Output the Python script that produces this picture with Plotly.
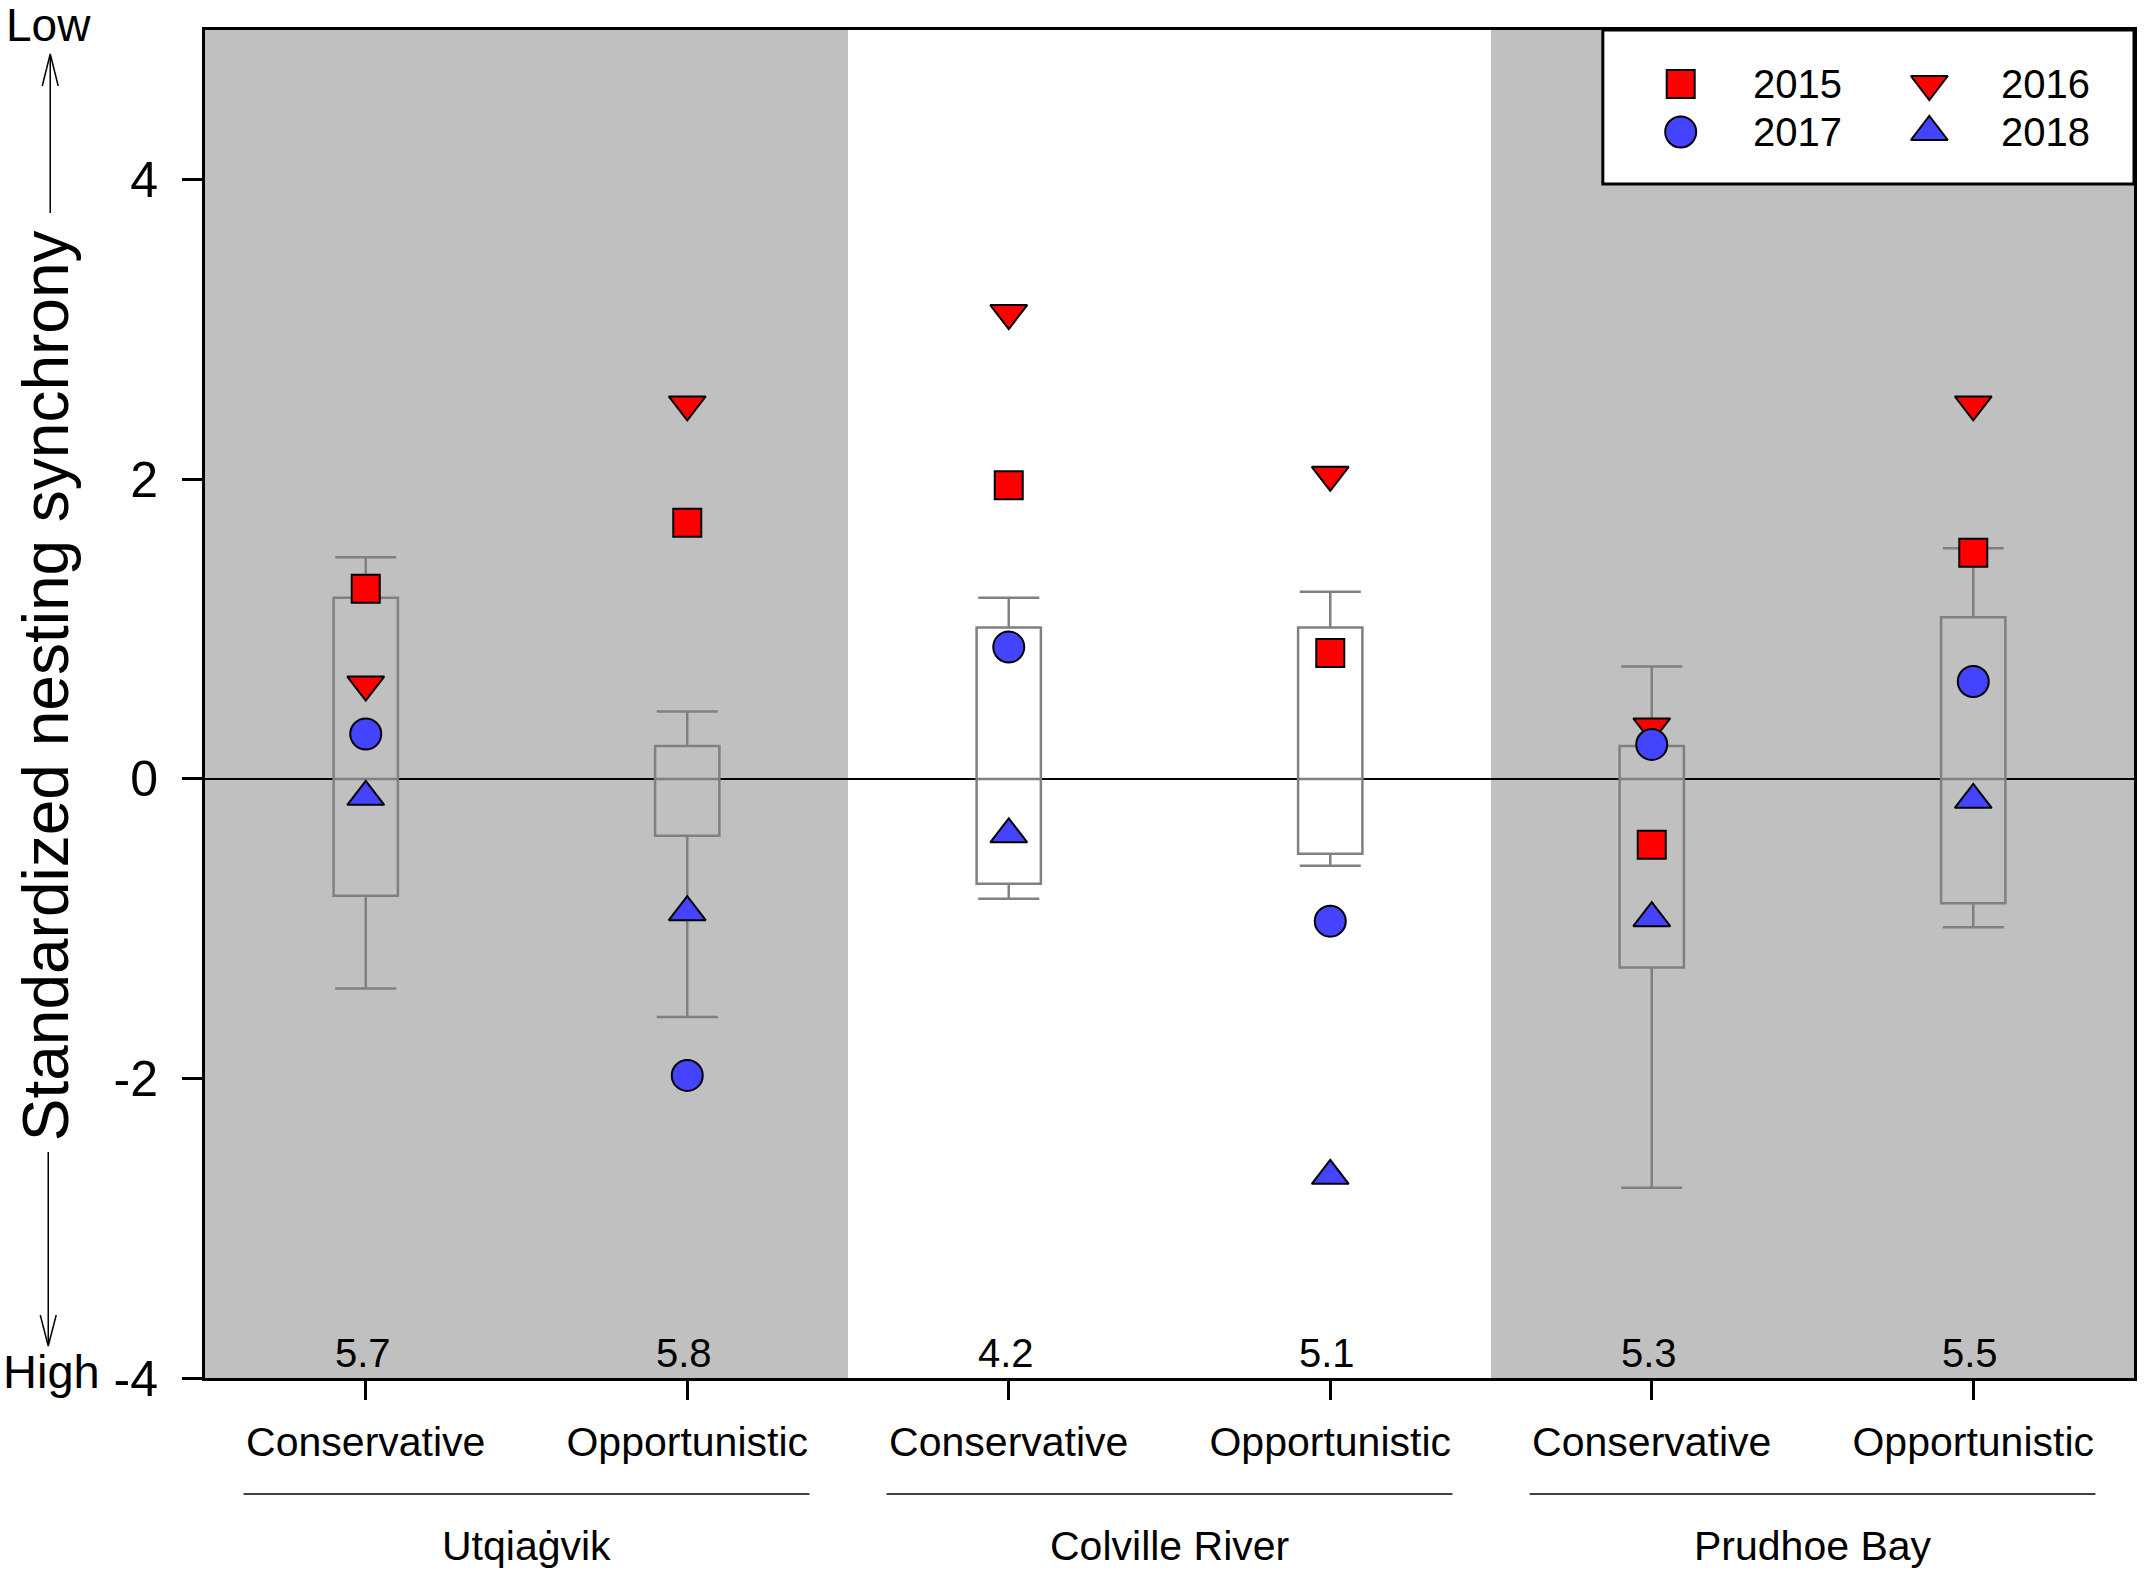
import plotly.graph_objects as go

# ---------------- data ----------------
positions = [1, 2, 3, 4, 5, 6]
categories = ["Conservative", "Opportunistic", "Conservative", "Opportunistic", "Conservative", "Opportunistic"]
groups = ["Utqiaġvik", "Colville River", "Prudhoe Bay"]
group_centers = [1.5, 3.5, 5.5]
bottom_values = ["5.7", "5.8", "4.2", "5.1", "5.3", "5.5"]
y_tickvals = [-4, -2, 0, 2, 4]
y_ticktext = ["-4", "-2", "0", "2", "4"]

box_upper = [1.48, 0.45, 1.21, 1.25, 0.75, 1.54]
box_q3 = [1.21, 0.22, 1.01, 1.01, 0.22, 1.08]
box_median = [0, 0, 0, 0, 0, 0]
box_q1 = [-0.78, -0.38, -0.70, -0.50, -1.26, -0.83]
box_lower = [-1.40, -1.59, -0.80, -0.58, -2.73, -0.99]

y2015 = [1.27, 1.71, 1.96, 0.84, -0.44, 1.51]
y2016 = [0.63, 2.50, 3.11, 2.03, 0.35, 2.50]
y2017 = [0.30, -1.98, 0.88, -0.95, 0.23, 0.65]
y2018 = [-0.12, -0.89, -0.37, -2.65, -0.93, -0.14]

years = ["2015", "2016", "2017", "2018"]

# ---------------- styling ----------------
FONT = "Liberation Sans, Arial, sans-serif"
RED = "#ff0000"
BLUE = "#4444ff"
GREY_BAND = "#c0c0c0"
BOX_LINE = "#808080"

W, H = 2149, 1573
L, R, T, B = 205, 2137, 30, 1378


def px(x):
    return (x - L) / (R - L)


def py(y):
    return (B - y) / (B - T)


def xd(v):
    return (v - 0.5) / 6.0


series = [
    (years[0], y2015, "square", RED, 28),
    (years[1], y2016, "triangle-down", RED, 32),
    (years[2], y2017, "circle", BLUE, 31),
    (years[3], y2018, "triangle-up", BLUE, 32),
]

fig = go.Figure()

fig.add_trace(go.Box(
    x=positions, q1=box_q1, median=box_median, q3=box_q3,
    lowerfence=box_lower, upperfence=box_upper,
    width=0.2, whiskerwidth=0.95,
    line=dict(color=BOX_LINE, width=2.5),
    fillcolor="rgba(0,0,0,0)", boxpoints=False,
    showlegend=False, hoverinfo="skip",
))

for name, vals, sym, col, size in series:
    fig.add_trace(go.Scatter(
        x=positions, y=vals, mode="markers", name=name, showlegend=False,
        marker=dict(symbol=sym, size=size, color=col, line=dict(color="black", width=2)),
        cliponaxis=False,
    ))

# manual legend glyphs (overlay axis in paper-like 0..1 units)
legend_pos = {
    "2015": (1683, 84), "2017": (1683, 132),
    "2016": (1932, 84), "2018": (1932, 132),
}
for name, vals, sym, col, size in series:
    lx, ly = legend_pos[name]
    fig.add_trace(go.Scatter(
        x=[px(lx)], y=[py(ly)], mode="markers", xaxis="x2", yaxis="y2",
        showlegend=False, hoverinfo="skip", cliponaxis=False,
        marker=dict(symbol=sym, size=size, color=col, line=dict(color="black", width=2)),
    ))

shapes = [
    dict(type="rect", xref="x", yref="paper", x0=0.5, x1=2.5, y0=0, y1=1,
         fillcolor=GREY_BAND, line=dict(width=0), layer="below"),
    dict(type="rect", xref="x", yref="paper", x0=4.5, x1=6.5, y0=0, y1=1,
         fillcolor=GREY_BAND, line=dict(width=0), layer="below"),
    dict(type="rect", xref="paper", yref="paper", x0=px(1605), x1=px(2137), y0=py(184), y1=py(30),
         fillcolor="white", line=dict(color="black", width=3), layer="below"),
    # y-axis arrows
    dict(type="line", xref="paper", yref="paper", x0=px(50), x1=px(50), y0=py(213), y1=py(55),
         line=dict(color="black", width=1.5)),
    dict(type="path", xref="paper", yref="paper",
         path=f"M {px(42)},{py(86)} L {px(50)},{py(54)} L {px(58)},{py(86)}",
         line=dict(color="black", width=1.5)),
    dict(type="line", xref="paper", yref="paper", x0=px(48), x1=px(48), y0=py(1152), y1=py(1344),
         line=dict(color="black", width=1.5)),
    dict(type="path", xref="paper", yref="paper",
         path=f"M {px(40)},{py(1315)} L {px(48)},{py(1346)} L {px(56)},{py(1315)}",
         line=dict(color="black", width=1.5)),
]
for g in group_centers:
    shapes.append(dict(type="line", xref="paper", yref="paper",
                       x0=xd(g - 0.88), x1=xd(g + 0.88), y0=py(1494), y1=py(1494),
                       line=dict(color="black", width=1.5)))

annotations = [
    dict(text="Standardized nesting synchrony", xref="paper", yref="paper",
         x=px(46), y=py(686), xanchor="center", yanchor="middle", textangle=-90,
         showarrow=False, font=dict(size=64, color="black", family=FONT)),
    dict(text="Low", xref="paper", yref="paper", x=px(48), y=py(25),
         xanchor="center", yanchor="middle", showarrow=False,
         font=dict(size=46, color="black", family=FONT)),
    dict(text="High", xref="paper", yref="paper", x=px(51), y=py(1371),
         xanchor="center", yanchor="middle", showarrow=False,
         font=dict(size=47, color="black", family=FONT)),
]
for xv, t in zip(positions, bottom_values):
    annotations.append(dict(text=t, xref="x", yref="y", x=xv, y=-4, xshift=-3, yshift=25,
                            xanchor="center", yanchor="middle", showarrow=False,
                            font=dict(size=40, color="black", family=FONT)))
for g, t in zip(group_centers, groups):
    annotations.append(dict(text=t, xref="x", yref="paper", x=g, y=py(1546),
                            xanchor="center", yanchor="middle", showarrow=False,
                            font=dict(size=41, color="black", family=FONT)))
for name in years:
    lx, ly = legend_pos[name]
    annotations.append(dict(text=name, xref="paper", yref="paper", x=px(lx + 70), y=py(ly),
                            xanchor="left", yanchor="middle", showarrow=False,
                            font=dict(size=40, color="black", family=FONT)))

fig.update_layout(
    width=W, height=H,
    margin=dict(l=L, r=W - R, t=T, b=H - B, pad=0),
    paper_bgcolor="white", plot_bgcolor="white",
    font=dict(family=FONT, color="black"),
    showlegend=False,
    shapes=shapes, annotations=annotations,
    xaxis=dict(range=[0.5, 6.5], tickvals=positions, ticktext=categories,
               ticks="outside", ticklen=19, tickwidth=2.5, tickcolor="black",
               showline=True, linewidth=3, linecolor="black", mirror=True,
               showgrid=False, zeroline=False, ticklabelstandoff=7,
               tickfont=dict(size=41, family=FONT, color="black")),
    yaxis=dict(range=[-4, 5], tickvals=y_tickvals, ticktext=y_ticktext,
               ticks="outside", ticklen=20, tickwidth=2.5, tickcolor="black",
               showline=True, linewidth=3, linecolor="black", mirror=True,
               showgrid=False, zeroline=True, zerolinecolor="black", zerolinewidth=1.5,
               ticklabelstandoff=14,
               tickfont=dict(size=50, family=FONT, color="black")),
    xaxis2=dict(overlaying="x", anchor="y2", range=[0, 1], visible=False, fixedrange=True),
    yaxis2=dict(overlaying="y", anchor="x2", range=[0, 1], visible=False, fixedrange=True),
)

fig.write_html("out.html", config={"displayModeBar": False},
               post_script="document.body.style.margin='0px';document.body.style.overflow='hidden';")
